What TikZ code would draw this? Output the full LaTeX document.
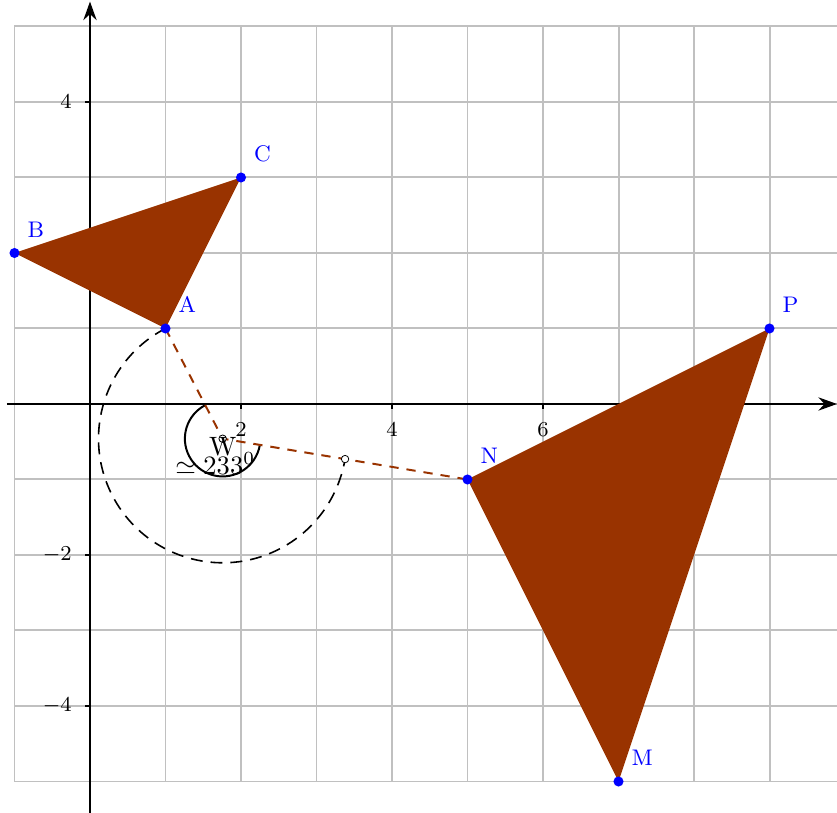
\documentclass[tikz,border=0pt]{standalone}
\usepackage{xcolor}
\usepackage{tikz}
\usetikzlibrary{calc,arrows.meta}
\definecolor{shapebrown}{HTML}{993300}
\definecolor{ptblue}{HTML}{0000FF}
\definecolor{gridgray}{HTML}{C0C0C0}

\begin{document}
\begin{tikzpicture}[
  x=1cm, y=1cm,
  gridline/.style={draw=gridgray, line width=0.75pt},
  axisline/.style={line width=0.75pt, -{Stealth[length=7pt,width=5pt]}},
  ticklabel/.style={font=\fontsize{8.5}{10}\selectfont, inner sep=1pt},
  ptdot/.style={circle, fill=ptblue, inner sep=0pt, minimum size=3.8pt},
  ptname/.style={text=ptblue, font=\fontsize{8.5}{10}\selectfont, inner sep=1pt, label distance=4pt},
  helperdot/.style={circle, draw=black, fill=white, line width=0.3pt, inner sep=0pt, minimum size=2.8pt},
  anglelabel/.style={font=\fontsize{10}{12}\selectfont, inner sep=0pt},
  linkdash/.style={draw=shapebrown, line width=0.75pt, dash pattern=on 3.5pt off 3pt},
  circdash/.style={line width=0.6pt, dash pattern=on 4.5pt off 3pt},
  trifill/.style={fill=shapebrown},
]
\useasboundingbox (-1.192,-5.417) rectangle (9.894,5.351);

% grid
\foreach \gx in {-1,...,9}
  \draw[gridline] (\gx,-5) -- (\gx,5);
\foreach \gy in {-5,...,5}
  \draw[gridline] (-1,\gy) -- (9.894,\gy);

% axes
\draw[axisline] (-1.1,0) -- (9.894,0);
\draw[axisline] (0,-5.417) -- (0,5.33);
\foreach \tx in {2,4,6} {
  \draw[line width=0.5pt] (\tx,0) -- (\tx,-2pt);
  \node[ticklabel] (xl\tx) at (\tx,-0.34) {$\tx$};
}
\foreach \ty in {4,-2,-4} {
  \draw[line width=0.5pt] (0,\ty) -- (-2pt,\ty);
  \node[ticklabel, anchor=east] (yl\ty) at (-0.2,\ty) {$\ty$};
}

% points
\coordinate (A) at (1,1);
\coordinate (B) at (-1,2);
\coordinate (C) at (2,3);
\coordinate (N) at (5,-1);
\coordinate (M) at (7,-5);
\coordinate (P) at (9,1);
\coordinate (W) at (1.7568,-0.4595);
\coordinate (Q) at ($(W)!0.5!(N)$);

% triangles
\fill[trifill] (A) -- (B) -- (C) -- cycle;
\fill[trifill] (N) -- (M) -- (P) -- cycle;

% arc and angle
\draw[circdash] (A) arc (117.41:350.54:1.6438);
\draw[line width=0.75pt] (W) ++(117.41:0.5) arc (117.41:350.54:0.5);
\draw[linkdash] (A) -- (W) -- (N);

\node[helperdot] (dW) at (W) {};
\node[helperdot] (dQ) at (Q) {};

\node[ptdot, label={[ptname]52:A}] (dA) at (A) {};
\node[ptdot, label={[ptname]52:B}] (dB) at (B) {};
\node[ptdot, label={[ptname]52:C}] (dC) at (C) {};
\node[ptdot, label={[ptname]52:N}] (dN) at (N) {};
\node[ptdot, label={[ptname]52:M}] (dM) at (M) {};
\node[ptdot, label={[ptname]52:P}] (dP) at (P) {};

\node[anglelabel] (wname) at (1.76,-0.57) {W};
\node[anglelabel] (wangle) at (1.66,-0.79) {$\simeq 233^{0}$};

\end{tikzpicture}
\end{document}
